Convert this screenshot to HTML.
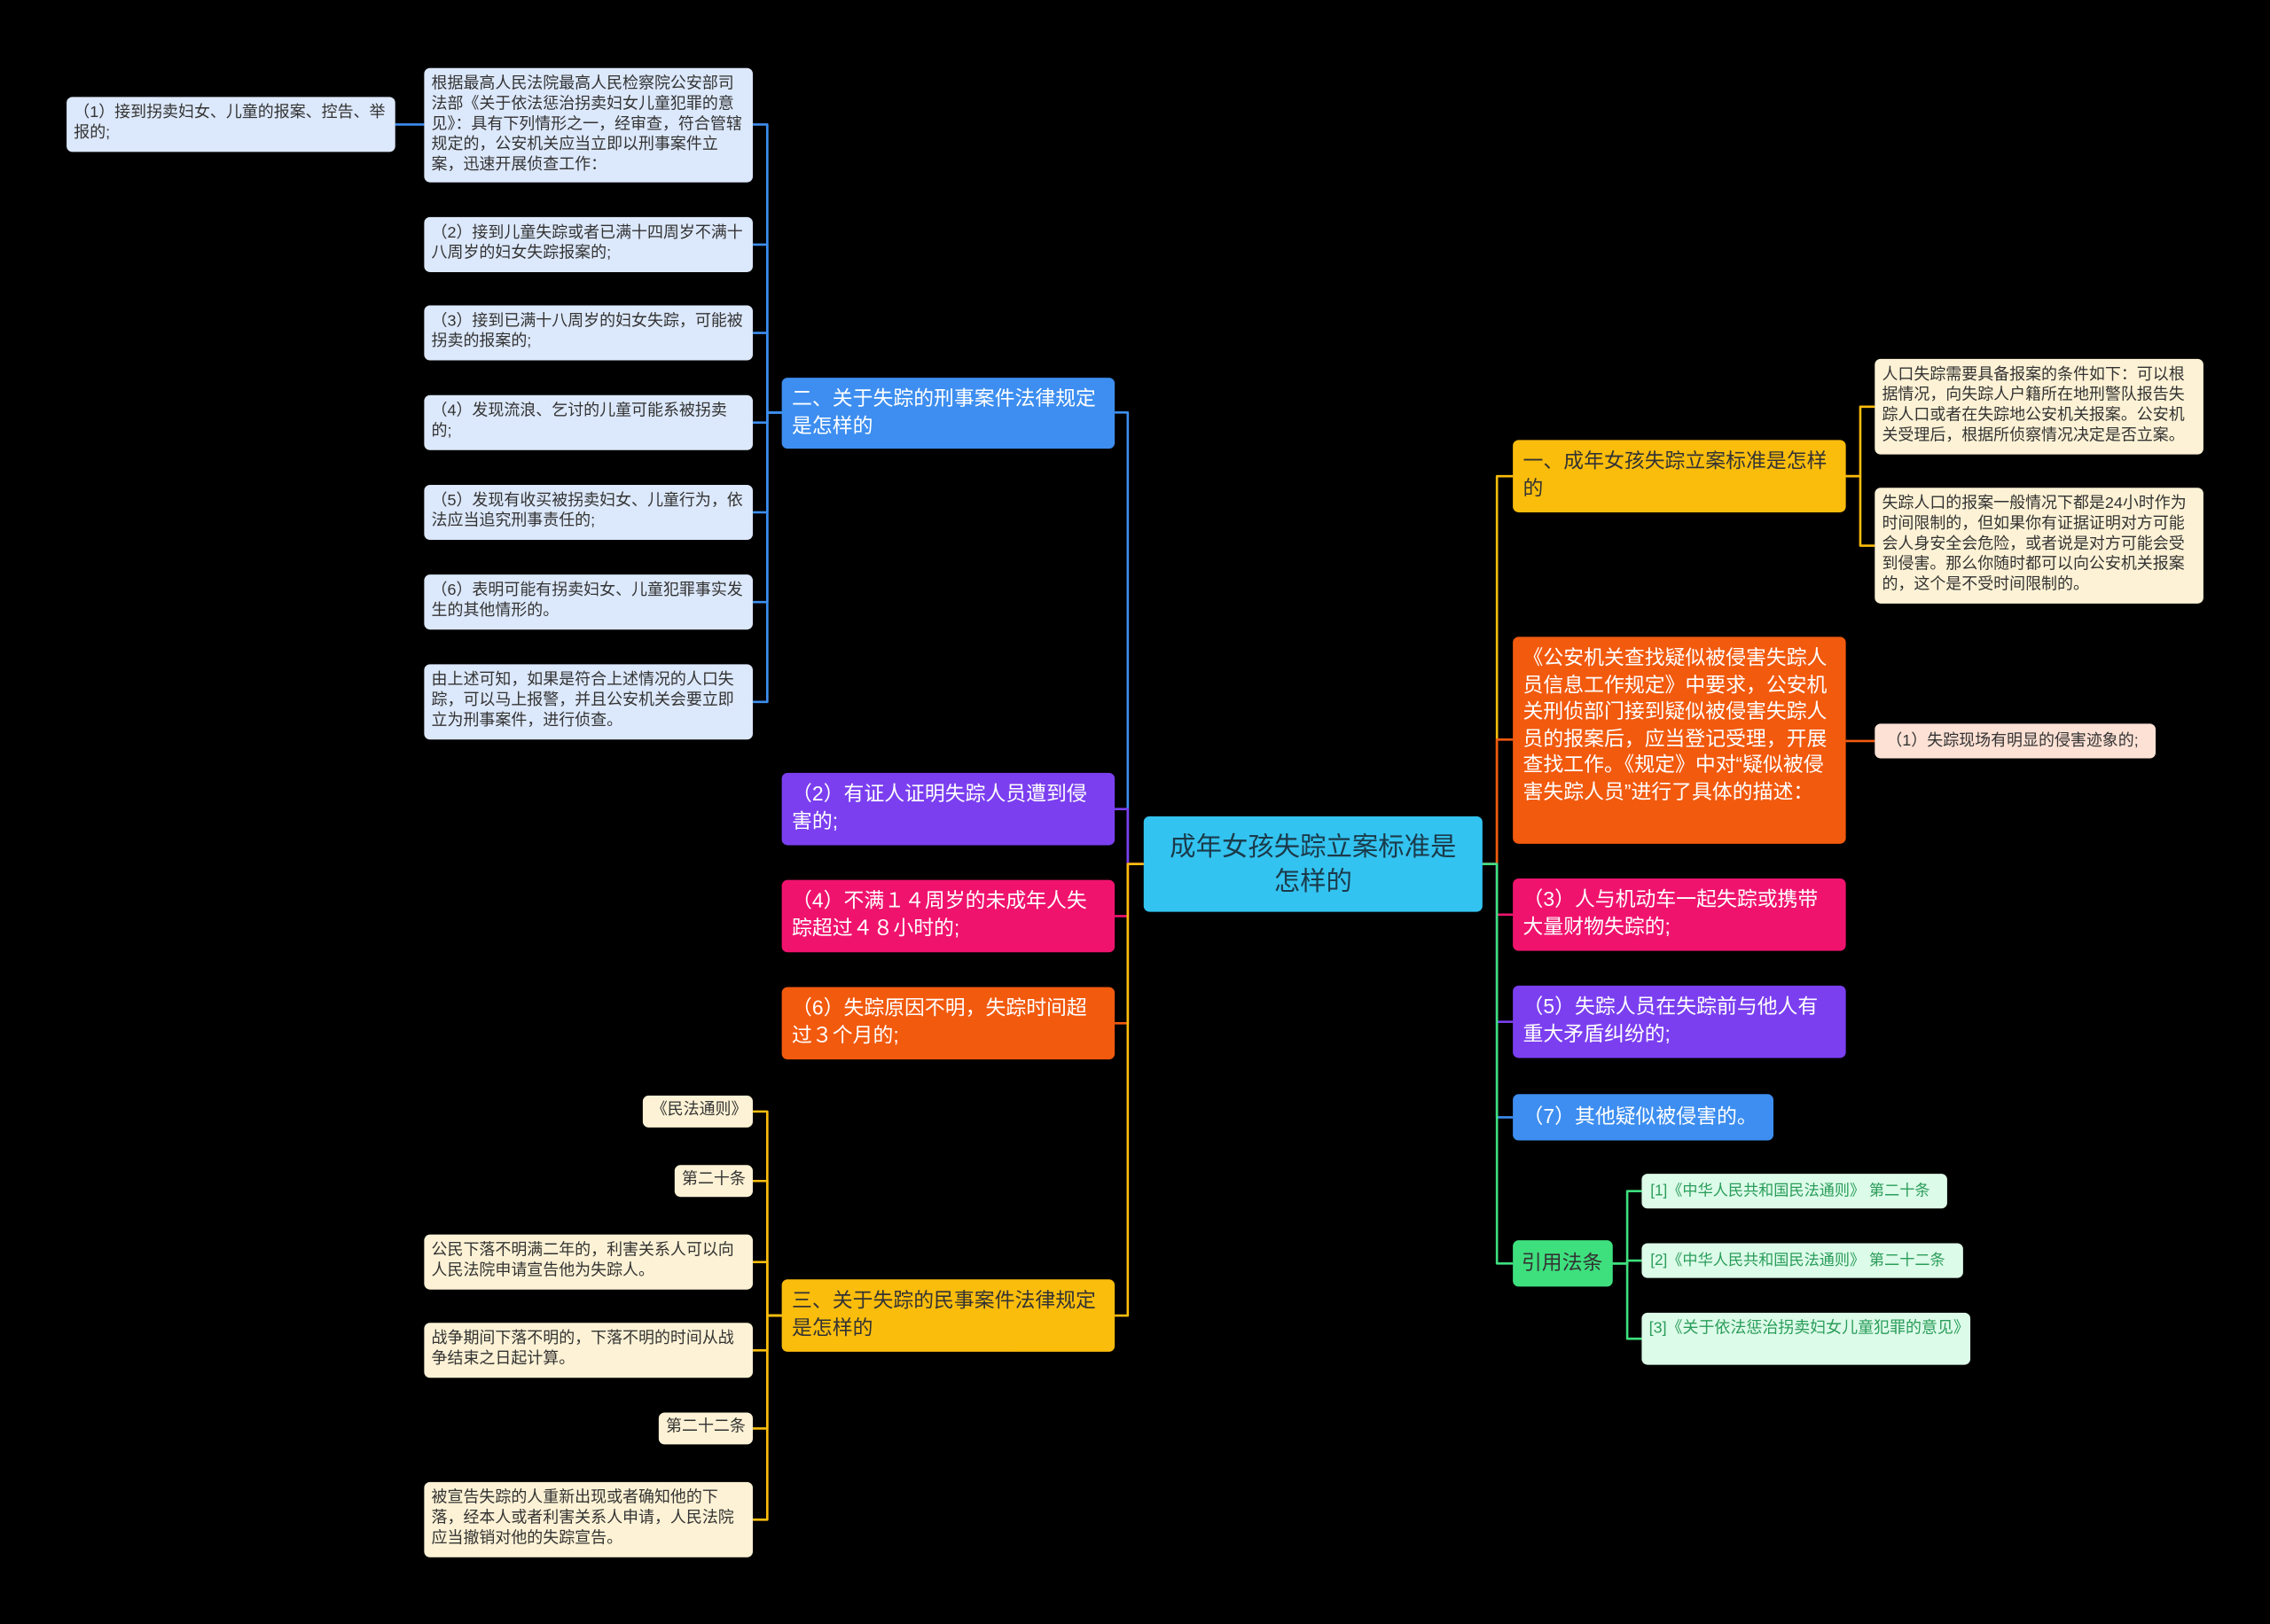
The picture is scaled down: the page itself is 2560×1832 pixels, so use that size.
<!DOCTYPE html>
<html><head><meta charset="utf-8"><style>
html,body{margin:0;padding:0;background:#000;}
body{width:2560px;height:1832px;overflow:hidden;position:relative;}
#w{position:absolute;left:0;top:0;width:1568px;height:1122px;transform:scale(1.632653);transform-origin:0 0;}
.n{position:absolute;box-sizing:border-box;border-radius:4px;font-family:"Liberation Sans","Noto Sans CJK SC",sans-serif;overflow:hidden;}
.l{font-size:11px;line-height:14px;color:#333;padding:4px 5px;}
.b{font-size:14px;line-height:19px;color:#fff;padding:5px 7px;}
.nw{white-space:nowrap;}
.bl{background:#dce8fb;} .ye{background:#fdf2d5;} .or{background:#fde1d5;} .gr{background:#ddfbe9;color:#2a9d5a;}
svg{position:absolute;left:0;top:0;}
</style></head><body><div id="w">
<svg width="1568" height="1122" fill="none" stroke-width="1.6" stroke-linejoin="round">
<g stroke="#3d8ef0">
<path d="M790 597H779V285H770"/>
<path d="M540 285H530V86H520"/><path d="M540 285H530V169H520"/><path d="M540 285H530V230H520"/><path d="M540 285H530V292H520"/><path d="M540 285H530V354H520"/><path d="M540 285H530V416H520"/><path d="M540 285H530V485H520"/>
<path d="M293 86H273"/>
<path d="M1024 597H1034V772H1045"/>
</g>
<path stroke="#7b3ff0" d="M790 597H779V559H770"/>
<path stroke="#f0136e" d="M790 597H779V633H770"/>
<path stroke="#f25a0e" d="M790 597H779V707H770"/>
<g stroke="#fbbd0c">
<path d="M790 597H779V909H770"/>
<path d="M540 909H530V768H520"/><path d="M540 909H530V816H520"/><path d="M540 909H530V872H520"/><path d="M540 909H530V933H520"/><path d="M540 909H530V987H520"/><path d="M540 909H530V1050H520"/>
<path d="M1024 597H1034V329H1045"/>
<path d="M1275 329H1285V281H1295"/><path d="M1275 329H1285V377H1295"/>
</g>
<path stroke="#f25a0e" d="M1024 597H1034V511H1045"/><path stroke="#f25a0e" d="M1275 512H1295"/>
<path stroke="#f0136e" d="M1024 597H1034V632H1045"/>
<path stroke="#7b3ff0" d="M1024 597H1034V706H1045"/>
<g stroke="#3ee07e">
<path d="M1024 597H1034V873H1045"/>
<path d="M1114 873H1124V823H1134"/><path d="M1114 873H1124V871H1134"/><path d="M1114 873H1124V925H1134"/>
</g>
</svg>

<div class="n" style="left:790px;top:564px;width:234px;height:66px;background:#33c3f0;color:#1a3a4a;font-size:18px;line-height:24px;text-align:center;padding:9px 14px;">成年女孩失踪立案标准是怎样的</div>

<div class="n b" style="left:540px;top:261px;width:230px;height:49px;background:#3d8ef0;">二、关于失踪的刑事案件法律规定是怎样的</div>
<div class="n b" style="left:540px;top:534px;width:230px;height:50px;background:#7b3ff0;">（2）有证人证明失踪人员遭到侵害的;</div>
<div class="n b" style="left:540px;top:608px;width:230px;height:50px;background:#f0136e;">（4）不满１４周岁的未成年人失踪超过４８小时的;</div>
<div class="n b" style="left:540px;top:682px;width:230px;height:50px;background:#f25a0e;">（6）失踪原因不明，失踪时间超过３个月的;</div>
<div class="n b" style="left:540px;top:884px;width:230px;height:50px;background:#fbbd0c;color:#333;">三、关于失踪的民事案件法律规定是怎样的</div>

<div class="n l bl" style="left:46px;top:67px;width:227px;height:38px;">（1）接到拐卖妇女、儿童的报案、控告、举报的;</div>
<div class="n l bl" style="left:293px;top:47px;width:227px;height:79px;">根据最高人民法院最高人民检察院公安部司法部《关于依法惩治拐卖妇女儿童犯罪的意见》：具有下列情形之一，经审查，符合管辖规定的，公安机关应当立即以刑事案件立案，迅速开展侦查工作：</div>
<div class="n l bl" style="left:293px;top:150px;width:227px;height:38px;">（2）接到儿童失踪或者已满十四周岁不满十八周岁的妇女失踪报案的;</div>
<div class="n l bl" style="left:293px;top:211px;width:227px;height:38px;">（3）接到已满十八周岁的妇女失踪，可能被拐卖的报案的;</div>
<div class="n l bl" style="left:293px;top:273px;width:227px;height:38px;">（4）发现流浪、乞讨的儿童可能系被拐卖的;</div>
<div class="n l bl" style="left:293px;top:335px;width:227px;height:38px;">（5）发现有收买被拐卖妇女、儿童行为，依法应当追究刑事责任的;</div>
<div class="n l bl" style="left:293px;top:397px;width:227px;height:38px;">（6）表明可能有拐卖妇女、儿童犯罪事实发生的其他情形的。</div>
<div class="n l bl" style="left:293px;top:459px;width:227px;height:52px;">由上述可知，如果是符合上述情况的人口失踪，可以马上报警，并且公安机关会要立即立为刑事案件，进行侦查。</div>

<div class="n l ye nw" style="left:444px;top:757px;width:76px;height:22px;padding:3px 6px;">《民法通则》</div>
<div class="n l ye nw" style="left:466px;top:805px;width:54px;height:22px;padding:3px 5px;">第二十条</div>
<div class="n l ye" style="left:293px;top:853px;width:227px;height:38px;">公民下落不明满二年的，利害关系人可以向人民法院申请宣告他为失踪人。</div>
<div class="n l ye" style="left:293px;top:914px;width:227px;height:38px;">战争期间下落不明的，下落不明的时间从战争结束之日起计算。</div>
<div class="n l ye nw" style="left:455px;top:976px;width:65px;height:22px;padding:3px 5px;">第二十二条</div>
<div class="n l ye" style="left:293px;top:1024px;width:227px;height:52px;">被宣告失踪的人重新出现或者确知他的下落，经本人或者利害关系人申请，人民法院应当撤销对他的失踪宣告。</div>

<div class="n b" style="left:1045px;top:304px;width:230px;height:50px;background:#fbbd0c;color:#333;">一、成年女孩失踪立案标准是怎样的</div>
<div class="n l ye" style="left:1295px;top:248px;width:227px;height:66px;">人口失踪需要具备报案的条件如下：可以根据情况，向失踪人户籍所在地刑警队报告失踪人口或者在失踪地公安机关报案。公安机关受理后，根据所侦察情况决定是否立案。</div>
<div class="n l ye" style="left:1295px;top:337px;width:227px;height:80px;">失踪人口的报案一般情况下都是24小时作为时间限制的，但如果你有证据证明对方可能会人身安全会危险，或者说是对方可能会受到侵害。那么你随时都可以向公安机关报案的，这个是不受时间限制的。</div>
<div class="n b" style="left:1045px;top:440px;width:230px;height:143px;background:#f25a0e;line-height:18.5px;">《公安机关查找疑似被侵害失踪人员信息工作规定》中要求，公安机关刑侦部门接到疑似被侵害失踪人员的报案后，应当登记受理，开展查找工作。《规定》中对“疑似被侵害失踪人员”进行了具体的描述：</div>
<div class="n l or nw" style="left:1295px;top:500px;width:194px;height:24px;padding:5px 8px;">（1）失踪现场有明显的侵害迹象的;</div>
<div class="n b" style="left:1045px;top:607px;width:230px;height:50px;background:#f0136e;">（3）人与机动车一起失踪或携带大量财物失踪的;</div>
<div class="n b" style="left:1045px;top:681px;width:230px;height:50px;background:#7b3ff0;">（5）失踪人员在失踪前与他人有重大矛盾纠纷的;</div>
<div class="n b nw" style="left:1045px;top:756px;width:180px;height:32px;background:#3d8ef0;padding:6px 7px;">（7）其他疑似被侵害的。</div>
<div class="n b nw" style="left:1045px;top:857px;width:69px;height:32px;background:#3ee07e;color:#333;padding:6px 6px;">引用法条</div>
<div class="n l gr nw" style="left:1134px;top:811px;width:211px;height:24px;padding:5px 6px;font-size:10.5px;">[1]《中华人民共和国民法通则》 第二十条</div>
<div class="n l gr nw" style="left:1134px;top:859px;width:222px;height:24px;padding:5px 6px;font-size:10.5px;">[2]《中华人民共和国民法通则》 第二十二条</div>
<div class="n l gr" style="left:1134px;top:907px;width:227px;height:36px;">[3]《关于依法惩治拐卖妇女儿童犯罪的意见》</div>
</div></body></html>
